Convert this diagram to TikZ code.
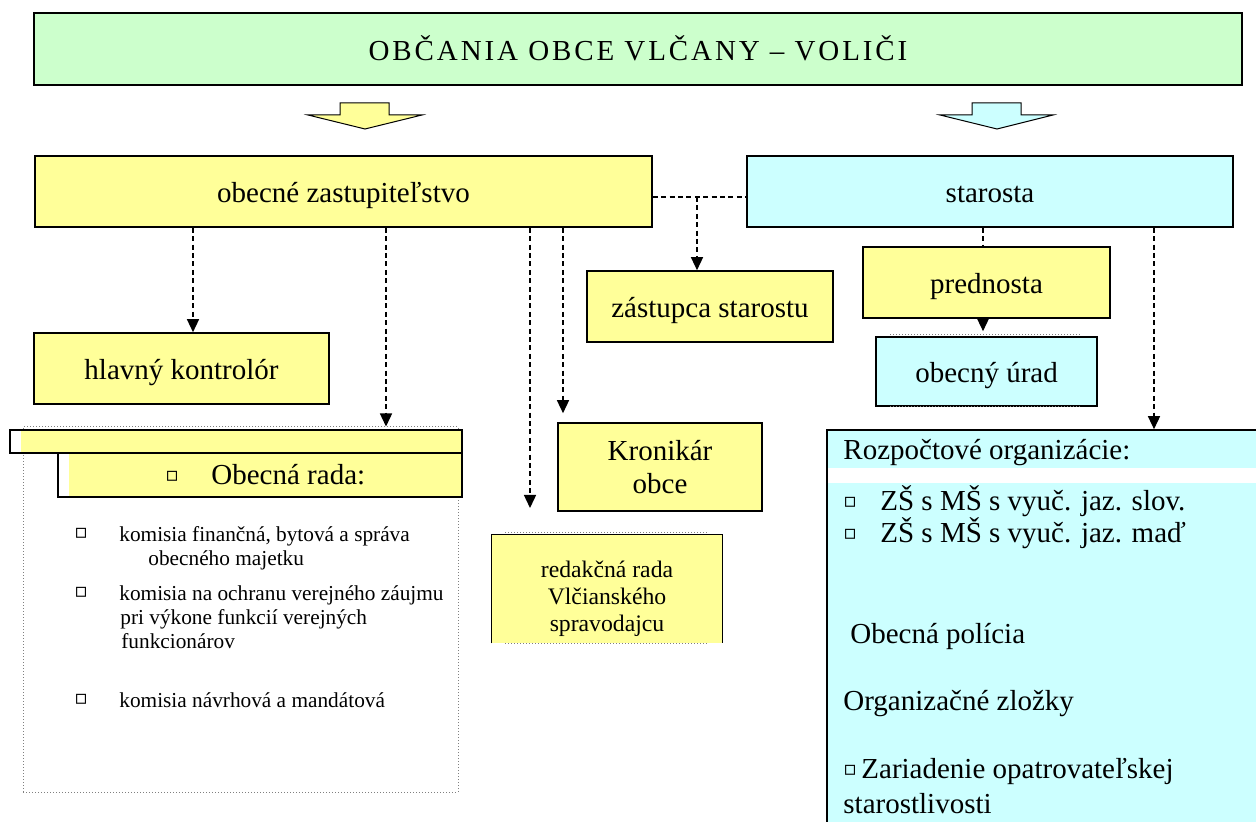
\documentclass[tikz,border=0pt]{standalone}
\usepackage{fontspec}
\setmainfont{Liberation Serif}
\newfontfamily\symfont{DejaVu Sans}
\usetikzlibrary{arrows.meta}
\definecolor{ylw}{HTML}{FFFF99}
\definecolor{cyn}{HTML}{CCFFFF}
\definecolor{grn}{HTML}{CCFFCC}
\newcommand{\bigtxt}{\fontsize{14.5}{16.5}\selectfont}
\newcommand{\smalltxt}{\fontsize{10.65}{12}\selectfont}
\newcommand{\redtxt}{\fontsize{11.85}{13.5}\selectfont}
\newcommand{\bul}{\raisebox{1.5pt}{\fontsize{10}{12}\symfont\char"25AB}}
\tikzset{
  plainbox/.style={draw, line width=0.8pt, minimum height=35.5pt, font=\bigtxt},
  oneline/.style={text height=13.5pt, text depth=2pt},
  ybox/.style={plainbox, fill=ylw, oneline},
  cbox/.style={plainbox, fill=cyn, oneline},
  wbar/.style={draw, line width=0.8pt, fill=ylw,
    path picture={\fill[white] (path picture bounding box.south west) rectangle ([xshift=5.5pt]path picture bounding box.north west);}},
  dline/.style={line width=0.7pt, dash pattern=on 2.5pt off 1.7pt},
  darrow/.style={dline, -{Triangle[width=6pt,length=6.5pt]}},
  sarrow/.style={line width=0.7pt, -{Triangle[width=6pt,length=6.5pt]}, shorten >=2.5pt},
  dotline/.style={gray, line width=0.5pt, densely dotted},
  item/.style={anchor=base west, inner sep=0pt},
}

\begin{document}
\begin{tikzpicture}[x=0.5pt, y=-0.5pt]
\useasboundingbox (0,0) rectangle (1256,822);

% voters and the two block arrows
\node[plainbox, fill=grn, oneline, minimum width=604pt, minimum height=36pt] (obcania) at (638,49) {\addfontfeatures{LetterSpace=10}OBČANIA OBCE VLČANY – VOLIČI};
\filldraw[fill=ylw, line width=0.5pt] (340,103) -- (389,103) -- (389,115) -- (422,115) -- (365,129) -- (308,115) -- (340,115) -- cycle;
\filldraw[fill=cyn, line width=0.5pt] (972,103) -- (1021,103) -- (1021,115) -- (1053,115) -- (997,129) -- (940,115) -- (972,115) -- cycle;

% main boxes
\node[ybox, minimum width=308.5pt] (zast) at (343.5,191.5) {obecné zastupiteľstvo};
\node[cbox, minimum width=243pt] (staro) at (990,191.5) {starosta};
\node[ybox, minimum width=123pt] (zastupca) at (710,306.5) {zástupca starostu};
\node[ybox, minimum width=147.5pt] (hlavny) at (181.5,368.5) {hlavný kontrolór};
\node[ybox, minimum width=123.5pt] (prednosta) at (986.5,282.5) {prednosta};
\node[cbox, minimum width=110.5pt, minimum height=34.5pt] (urad) at (986.5,371.5) {obecný úrad};
\draw[dotline] (890,335) -- (1082,335) (890,407) -- (1082,407);
\node[plainbox, fill=ylw, minimum width=102pt, minimum height=44pt, align=center] (kronikar) at (660,467) {Kronikár\\obce};

% redakcna rada, open at the bottom
\node[fill=ylw, minimum width=115pt, minimum height=54pt] (redak) at (607,589) {};
\draw[line width=0.8pt] (redak.south west) |- (redak.north east) -- (redak.south east);
\draw[dotline] (505,532) -- (708,532) (505,643) -- (708,643);
\node[font=\redtxt, align=center] (redaktext) at (607,599) {redakčná rada\\Vlčianského\\spravodajcu};

% obecna rada
\node[draw=gray, densely dotted, line width=0.5pt, minimum width=217.5pt, minimum height=182.5pt] (radaframe) at (240.5,609.5) {};
\node[wbar, minimum width=226pt, minimum height=11.5pt] (radatop) at (236,441.5) {};
\node[wbar, minimum width=202pt, minimum height=22pt] (radabar) at (260,475) {};
\node[item, font=\bigtxt] (rada) at (165,485) {\makebox[23pt][l]{\bul}Obecná rada:};
\node[item, font=\smalltxt] (k1a) at (74,541) {\makebox[22.5pt][l]{\bul}komisia finančná, bytová a správa};
\node[item, font=\smalltxt] (k1b) at (148,566) {obecného majetku};
\node[item, font=\smalltxt] (k2a) at (74,600) {\makebox[22.5pt][l]{\bul}komisia na ochranu verejného záujmu};
\node[item, font=\smalltxt] (k2b) at (120,624) {pri výkone funkcií verejných};
\node[item, font=\smalltxt] (k2c) at (121,648) {funkcionárov};
\node[item, font=\smalltxt] (k3) at (74,707) {\makebox[22.5pt][l]{\bul}komisia návrhová a mandátová};

% rozpoctove organizacie
\node[draw, line width=0.8pt, fill=cyn, minimum width=221.5pt, minimum height=205pt] (rozp) at (1048.5,635) {};
\fill[white] (828,468) rectangle (1262,483);
\node[item, font=\bigtxt] (roz0) at (843,460) {Rozpočtové organizácie:};
\node[item, font=\bigtxt] (roz1) at (843,510) {\makebox[18.5pt][l]{\bul}ZŠ s MŠ s vyuč. jaz. slov.};
\node[item, font=\bigtxt] (roz2) at (843,542) {\makebox[18.5pt][l]{\bul}ZŠ s MŠ s vyuč. jaz. maď};
\node[item, font=\bigtxt] (roz3) at (850,643) {Obecná polícia};
\node[item, font=\bigtxt] (roz4) at (843,710) {Organizačné zložky};
\node[item, font=\bigtxt] (roz5) at (843,778) {\makebox[9pt][l]{\bul}Zariadenie opatrovateľskej};
\node[item, font=\bigtxt] (roz6) at (843,813) {starostlivosti};

% connectors
\coordinate (split) at (697,197);
\coordinate (c1) at (193,0);
\coordinate (c2) at (386,0);
\coordinate (c3) at (530,0);
\coordinate (c4) at (563,0);
\coordinate (c5) at (1154,0);
\coordinate (c6) at (983,0);
\coordinate (redakend) at (530,508);
\draw[dline] (zast.east |- split) -- (staro.west |- split);
\draw[darrow] (split) -- (zastupca.north -| split);
\draw[darrow] (zast.south -| c1) -- (hlavny.north -| c1);
\draw[darrow] (zast.south -| c2) -- (radaframe.north -| c2);
\draw[darrow] (zast.south -| c3) -- (redakend);
\draw[darrow, shorten >=4.5pt] (zast.south -| c4) -- (kronikar.north -| c4);
\draw[darrow] (staro.south -| c5) -- (rozp.north -| c5);
\draw[dline] (staro.south -| c6) -- (prednosta.north -| c6);
\draw[sarrow] (prednosta.south -| c6) -- (urad.north -| c6);
\end{tikzpicture}
\end{document}
